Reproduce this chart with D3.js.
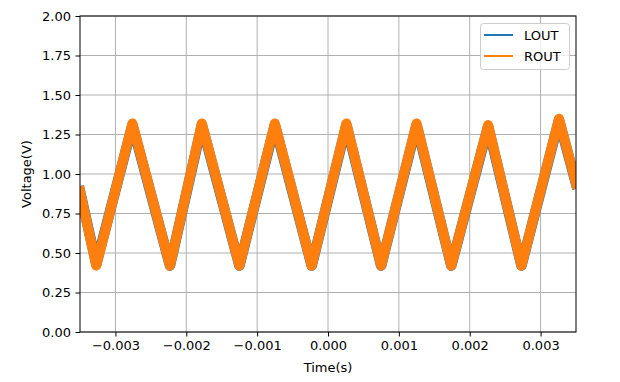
<!DOCTYPE html>
<html>
<head>
<meta charset="utf-8">
<script src="https://cdn.jsdelivr.net/npm/d3@7"></script>
<style>
  html, body { margin: 0; padding: 0; background: #fff; }
  svg { display: block; font-family: "DejaVu Sans", sans-serif; }
</style>
</head>
<body>
<svg id="chart" width="620" height="382"></svg>
<script>
// ---- data ----
const time = [-0.0035, -0.00327, -0.00276, -0.00223, -0.00178, -0.00125, -0.00075, -0.00023, 0.00026, 0.00075, 0.00125, 0.00174, 0.00226, 0.00273, 0.00326, 0.0035];
const lout = [0.89, 0.43, 1.31, 0.42, 1.31, 0.42, 1.31, 0.42, 1.31, 0.42, 1.31, 0.42, 1.30, 0.42, 1.34, 0.94];
const rout = [0.89, 0.42, 1.32, 0.42, 1.32, 0.42, 1.32, 0.42, 1.32, 0.42, 1.32, 0.42, 1.31, 0.42, 1.35, 0.94];
const seriesNames = ["LOUT", "ROUT"];
const seriesColors = ["#1f77b4", "#ff7f0e"];
const xTicks = [-0.003, -0.002, -0.001, 0.000, 0.001, 0.002, 0.003];
const yTicks = [0, 0.25, 0.5, 0.75, 1.0, 1.25, 1.5, 1.75, 2.0];

const svg = d3.select("#chart");
const m = { left: 80, top: 16, right: 576, bottom: 332 };
const x = d3.scaleLinear().domain([-0.0035, 0.0035]).range([m.left, m.right]);
const y = d3.scaleLinear().domain([0, 2]).range([m.bottom, m.top]);

// grid
const grid = svg.append("g");
grid.selectAll(".gx").data(xTicks).join("line")
  .attr("x1", d => x(d)).attr("x2", d => x(d))
  .attr("y1", m.top).attr("y2", m.bottom)
  .attr("stroke", "#b0b0b0").attr("stroke-width", 1);
grid.selectAll(".gy").data(yTicks).join("line")
  .attr("y1", d => y(d)).attr("y2", d => y(d))
  .attr("x1", m.left).attr("x2", m.right)
  .attr("stroke", "#b0b0b0").attr("stroke-width", 1);

// clip
svg.append("clipPath").attr("id", "clip").append("rect")
  .attr("x", m.left).attr("y", m.top).attr("width", m.right - m.left).attr("height", m.bottom - m.top);

const line = d3.line().x(d => x(d[0])).y(d => y(d[1]));
const plot = svg.append("g").attr("clip-path", "url(#clip)");
plot.append("path").datum(time.map((t, i) => [t, lout[i]]))
  .attr("d", line).attr("fill", "none").attr("stroke", seriesColors[0])
  .attr("stroke-width", 10.5).attr("stroke-linejoin", "round").attr("stroke-linecap", "square");
plot.append("path").datum(time.map((t, i) => [t, rout[i]]))
  .attr("d", line).attr("fill", "none").attr("stroke", seriesColors[1])
  .attr("stroke-width", 10).attr("stroke-linejoin", "round").attr("stroke-linecap", "square");

// axes
const fmtX = d => (d < 0 ? "\u2212" : "") + Math.abs(d).toFixed(3);
const xAxis = d3.axisBottom(x).tickValues(xTicks).tickFormat(fmtX).tickSizeOuter(0).tickSize(4.5).tickPadding(4.5);
const yAxis = d3.axisLeft(y).tickValues(yTicks).tickFormat(d => d.toFixed(2)).tickSizeOuter(0).tickSize(4.5).tickPadding(4.5);
const gx = svg.append("g").attr("transform", `translate(0,${m.bottom})`).call(xAxis);
const gy = svg.append("g").attr("transform", `translate(${m.left},0)`).call(yAxis);
[gx, gy].forEach(g => {
  g.select(".domain").remove();
  g.selectAll("line").attr("stroke", "#000").attr("stroke-width", 1);
  g.selectAll("text").attr("font-size", 13).attr("fill", "#000").attr("font-family", "DejaVu Sans");
});

// spines
svg.append("rect").attr("x", m.left).attr("y", m.top)
  .attr("width", m.right - m.left).attr("height", m.bottom - m.top)
  .attr("fill", "none").attr("stroke", "#000").attr("stroke-width", 1);

// labels
svg.append("text").attr("x", (m.left + m.right) / 2).attr("y", 372)
  .attr("text-anchor", "middle").attr("font-size", 13).text("Time(s)");
svg.append("text").attr("transform", `translate(31,${(m.top + m.bottom) / 2}) rotate(-90)`)
  .attr("text-anchor", "middle").attr("font-size", 13).text("Voltage(V)");

// legend
const lg = svg.append("g");
lg.append("rect").attr("x", 480.5).attr("y", 23.5).attr("width", 89).attr("height", 46)
  .attr("rx", 3).attr("fill", "#fff").attr("fill-opacity", 0.8)
  .attr("stroke", "#cccccc").attr("stroke-width", 1);
seriesNames.forEach((name, i) => {
  const yy = 35 + i * 21;
  lg.append("line").attr("x1", 484).attr("x2", 513).attr("y1", yy).attr("y2", yy)
    .attr("stroke", seriesColors[i]).attr("stroke-width", 2);
  lg.append("text").attr("x", 524).attr("y", yy).attr("dy", "0.36em")
    .attr("font-size", 13).text(name);
});
</script>
</body>
</html>
